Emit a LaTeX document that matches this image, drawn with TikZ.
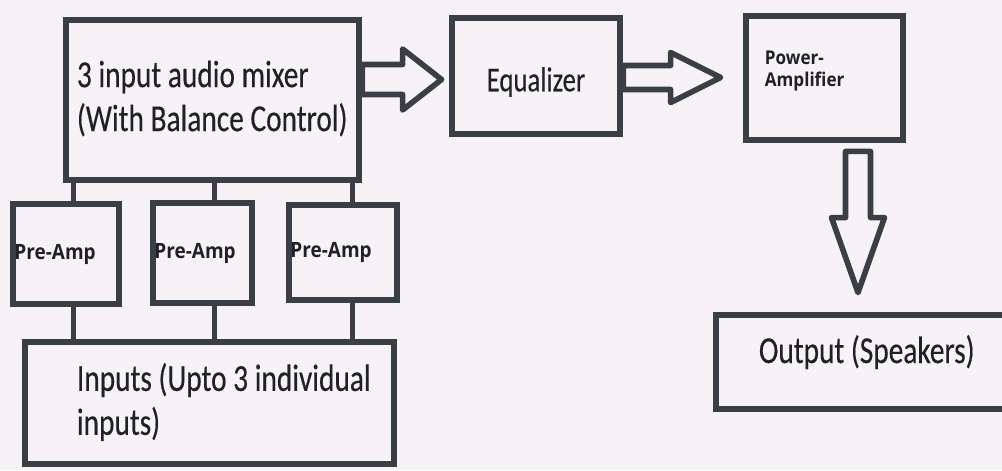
\documentclass[tikz,border=0pt]{standalone}
\usepackage{fontspec}
\setmainfont{Carlito}
\newfontfamily\blockfont[FakeStretch=0.77,FakeBold=0.3]{Carlito}
\newfontfamily\smallfont[FakeStretch=0.9]{Open Sans}
\usepackage{tikz}
\usetikzlibrary{calc}

\definecolor{inkline}{RGB}{58,63,70}
\definecolor{inktext}{RGB}{30,33,40}
\definecolor{paper}{RGB}{247,242,245}

\begin{document}
\begin{tikzpicture}[
blk/.style={
    draw=inkline,
    line width=3.9pt,
    inner sep=0pt
},
wire/.style={draw=inkline, line width=2.6pt},
fat/.style={draw=inkline, line width=3.2pt, line join=round},
big/.style={
    font=\blockfont\fontsize{21.7}{25}\selectfont,
    text=inktext,
    inner sep=0pt,
    align=left
},
small/.style={
    font=\smallfont\bfseries\fontsize{12}{13}\selectfont,
    text=inktext,
    inner sep=0pt,
    align=left
}
]

\fill[paper] (0,0) rectangle (20.04,9.4);
\useasboundingbox (0,0) rectangle (20.04,9.4);

% blocks
\node[blk, minimum width=5.86cm, minimum height=3.2cm] (mix) at (4.25,7.4) {};
\node[blk, big, font=\blockfont\fontsize{19.8}{24}\selectfont,
    minimum width=3.36cm, minimum height=2.32cm] (eq) at (10.72,7.88)
    {\raisebox{-0.12cm}[\height][\depth]{Equalizer}};
\node[blk, minimum width=3.14cm, minimum height=2.48cm] (pa) at (16.49,7.84) {};
\node[blk, minimum width=6.68cm, minimum height=1.88cm] (out) at (17.66,2.16) {};
\node[blk, minimum width=2.12cm, minimum height=2cm] (pre1) at (1.32,4.32) {};
\node[blk, minimum width=1.98cm, minimum height=2cm] (pre2) at (4.05,4.34) {};
\node[blk, minimum width=2.16cm, minimum height=1.9cm] (pre3) at (6.86,4.35) {};
\node[blk, minimum width=7.38cm, minimum height=2.44cm] (inp) at (4.19,1.34) {};

% texts
\node[big, anchor=west] (mixtxt) at ($(mix.west)+(0.28,0.03)$)
    {3 input audio mixer\\(With Balance Control)};
\node[small, font=\smallfont\bfseries\fontsize{10.8}{12.5}\selectfont, anchor=west]
    (patxt) at ($(pa.west)+(0.44,0.14)$) {Power-\\Amplifier};
\node[big, anchor=base west] (outtxt) at ($(out.west)+(0.92,-0.02)$) {Output (Speakers)};
\node[big, anchor=west] (inptxt) at ($(inp.west)+(1.1,0.02)$)
    {Inputs (Upto 3 individual\\inputs)};
\foreach \p in {pre1,pre2,pre3}
    \node[small, anchor=west] (\p txt) at ($(\p.west)+(0.09,0.0)$) {Pre-Amp};

% wires
\foreach \p/\dx in {pre1/0.15, pre2/0.24, pre3/0.19} {
    \draw[wire] ([xshift=\dx cm]\p.north) -- ([xshift=\dx cm]\p.north |- mix.south);
    \draw[wire] ([xshift=\dx cm]\p.south) -- ([xshift=\dx cm]\p.south |- inp.north);
}

% block arrows
\coordinate (a1s) at ($(mix.east)+(0,0.41)$);
\coordinate (a1e) at ($(eq.west |- a1s)+(-0.14,0)$);
\draw[fat] ($(a1s)+(0,0.30)$) -- ($(a1e)+(-0.78,0.30)$) -- ($(a1e)+(-0.78,0.61)$)
    -- (a1e) -- ($(a1e)+(-0.78,-0.61)$) -- ($(a1e)+(-0.78,-0.30)$)
    -- ($(a1s)+(0,-0.30)$) -- cycle;

\coordinate (a2s) at ($(eq.east)+(0,-0.03)$);
\coordinate (a2e) at ($(pa.west |- a2s)+(-0.44,0)$);
\draw[fat] ($(a2s)+(0,0.24)$) -- ($(a2e)+(-1.0,0.24)$) -- ($(a2e)+(-1.0,0.50)$)
    -- (a2e) -- ($(a2e)+(-1.0,-0.50)$) -- ($(a2e)+(-1.0,-0.24)$)
    -- ($(a2s)+(0,-0.24)$) -- cycle;

\coordinate (a3s) at ($(pa.south)+(0.67,-0.16)$);
\coordinate (a3e) at ($(out.north -| a3s)+(0,0.38)$);
\draw[fat] ($(a3s)+(-0.25,0)$) -- ($(a3e)+(-0.25,1.5)$) -- ($(a3e)+(-0.53,1.5)$)
    -- (a3e) -- ($(a3e)+(0.53,1.5)$) -- ($(a3e)+(0.25,1.5)$)
    -- ($(a3s)+(0.25,0)$) -- cycle;
\end{tikzpicture}
\end{document}
